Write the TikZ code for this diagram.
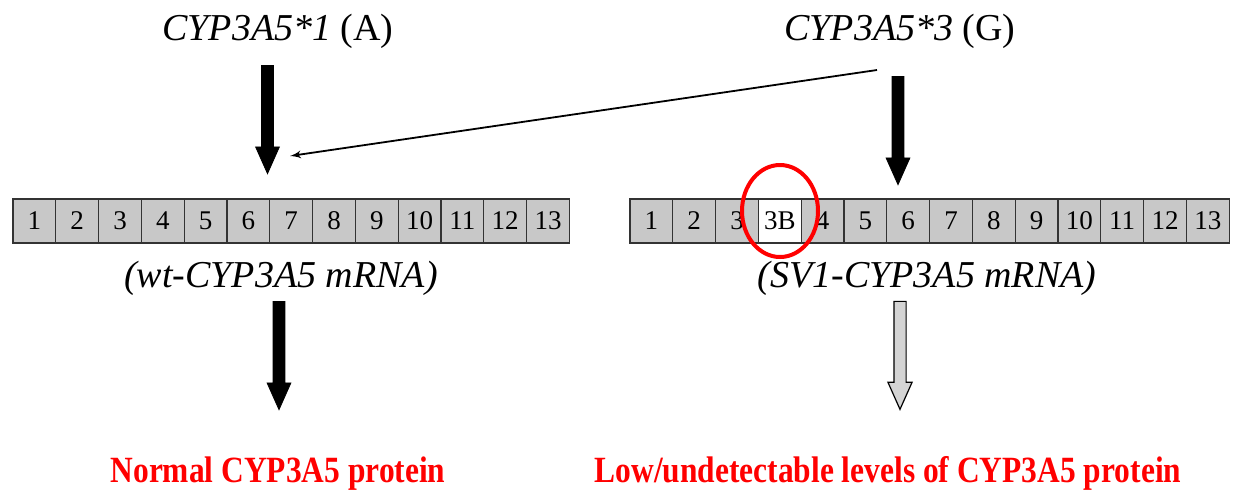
\documentclass[tikz,border=0pt]{standalone}
\usepackage{xcolor}
\usepackage{fontspec}
\setmainfont{Liberation Serif}
\newfontfamily\protfont[FakeStretch=0.85,BoldFont={Liberation Serif Bold}]{Liberation Serif}
\usepackage{tikz}
\usetikzlibrary{shapes,arrows}
\definecolor{exongray}{RGB}{200,200,200}
\definecolor{arrowgray}{RGB}{212,212,212}

\begin{document}
\begin{tikzpicture}[x=0.5pt, y=-0.5pt, node distance=21.4pt, >=latex']
    \tikzstyle{exon} = [rectangle, draw=black!80, fill=exongray, line width=0.6pt,
        minimum width=21.4pt, minimum height=22pt, inner sep=0pt,
        font=\fontsize{13.5pt}{15pt}\selectfont]
    \tikzstyle{allele} = [anchor=base, inner sep=0pt, font=\fontsize{19pt}{22pt}\selectfont]
    \tikzstyle{protein} = [anchor=base, inner sep=0pt, text=red,
        font=\protfont\bfseries\fontsize{18.5pt}{21pt}\selectfont]
    \tikzstyle{bigarrow} = [single arrow, draw, fill=black, shape border rotate=270,
        minimum height=54pt, minimum width=11.5pt, inner sep=2.75pt,
        single arrow head extend=3pt, single arrow tip angle=48]
    \tikzstyle{line} = [draw, line width=0.9pt, -latex']

    \useasboundingbox (0,0) rectangle (1237,489);

    \node [allele] (alleleA) at (278,40) {\textit{CYP3A5*1} (A)};
    \node [allele] (alleleG) at (900,40) {\textit{CYP3A5*3} (G)};

    \node [bigarrow] (arrA) at (267.5,113) {};
    \node [bigarrow] (arrG) at (898,124) {};

    % wild type exons
    \node [exon] (w1) at (34.4,221) {1};
    \node [exon, right of=w1] (w2) {2};
    \node [exon, right of=w2] (w3) {3};
    \node [exon, right of=w3] (w4) {4};
    \node [exon, right of=w4] (w5) {5};
    \node [exon, right of=w5] (w6) {6};
    \node [exon, right of=w6] (w7) {7};
    \node [exon, right of=w7] (w8) {8};
    \node [exon, right of=w8] (w9) {9};
    \node [exon, right of=w9] (w10) {10};
    \node [exon, right of=w10] (w11) {11};
    \node [exon, right of=w11] (w12) {12};
    \node [exon, right of=w12] (w13) {13};

    % splice variant exons
    \node [exon] (s1) at (651.4,221) {1};
    \node [exon, right of=s1] (s2) {2};
    \node [exon, right of=s2] (s3) {3};
    \node [exon, fill=white, right of=s3] (s3b) {3B};
    \node [exon, right of=s3b] (s4) {4};
    \node [exon, right of=s4] (s5) {5};
    \node [exon, right of=s5] (s6) {6};
    \node [exon, right of=s6] (s7) {7};
    \node [exon, right of=s7] (s8) {8};
    \node [exon, right of=s8] (s9) {9};
    \node [exon, right of=s9] (s10) {10};
    \node [exon, right of=s10] (s11) {11};
    \node [exon, right of=s11] (s12) {12};
    \node [exon, right of=s12] (s13) {13};

    \node [ellipse, draw=red, line width=2pt, minimum width=38pt, minimum height=46pt,
        inner sep=0pt] (ring) at (780,211) {};

    \node [allele] (wtmrna) at (281,287) {\textit{(wt-CYP3A5 mRNA)}};
    \node [allele] (svmrna) at (927,287) {\textit{(SV1-CYP3A5 mRNA)}};

    \node [bigarrow] (arrN) at (279,349) {};
    \node [bigarrow, fill=arrowgray, line width=0.6pt] (arrL) at (900,348.5) {};

    \node [protein] (normal) at (278,482) {Normal CYP3A5 protein};
    \node [protein] (low) at (888,482) {Low/undetectable levels of CYP3A5 protein};

    \coordinate (skipstart) at (877,70);
    \coordinate (skipend) at (290,156);
    \path [line] (skipstart) -- (skipend);
\end{tikzpicture}
\end{document}
